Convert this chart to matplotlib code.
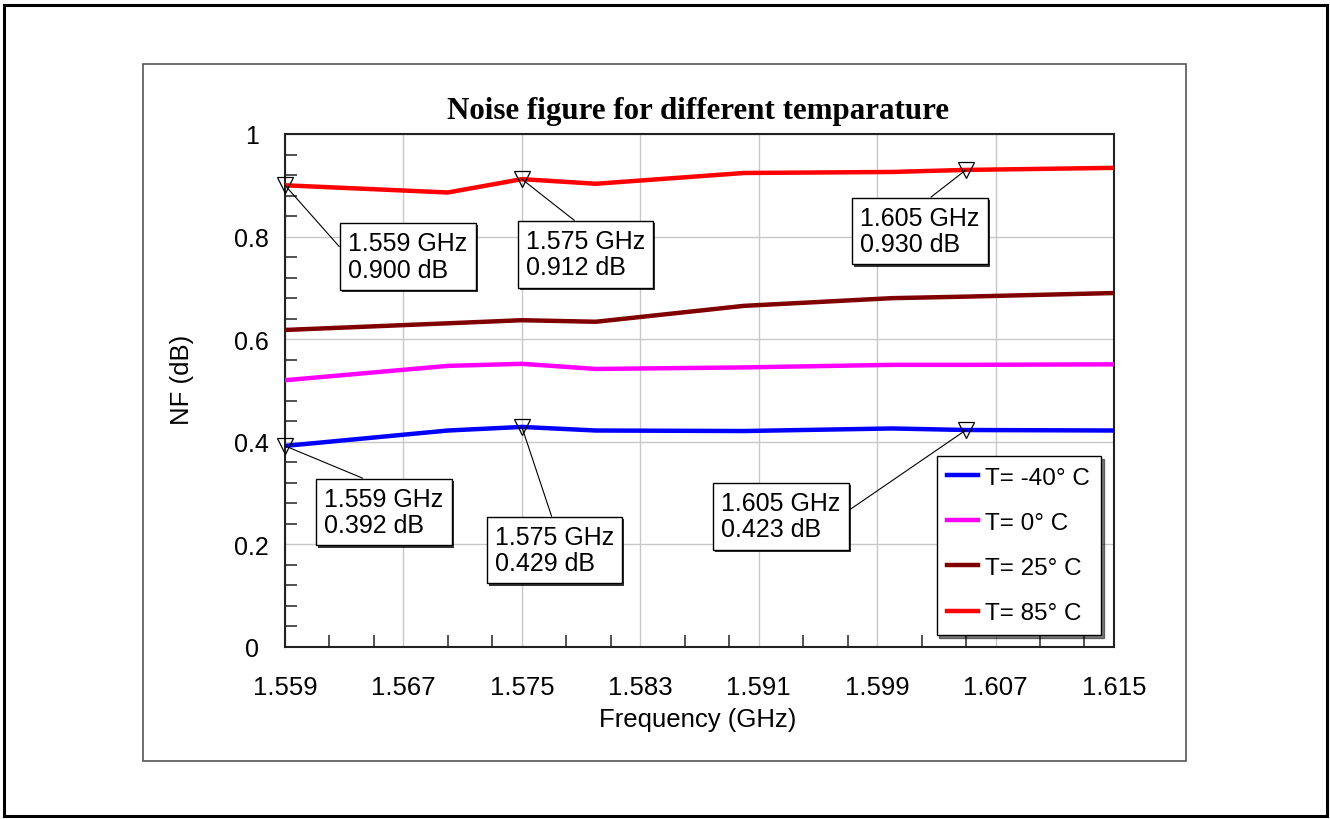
import matplotlib.pyplot as plt
from matplotlib import patheffects
from matplotlib.patches import Rectangle

# measured noise figure (dB) vs frequency (GHz) at four temperatures
freq = [1.559, 1.570, 1.575, 1.580, 1.590, 1.600, 1.605, 1.615]
nf_m40 = [0.392, 0.422, 0.429, 0.422, 0.421, 0.426, 0.423, 0.422]
nf_0 = [0.520, 0.548, 0.552, 0.542, 0.545, 0.550, 0.550, 0.551]
nf_25 = [0.618, 0.631, 0.637, 0.634, 0.665, 0.680, 0.683, 0.690]
nf_85 = [0.900, 0.886, 0.912, 0.903, 0.924, 0.926, 0.930, 0.934]

series_labels = ['T= -40° C', 'T= 0° C', 'T= 25° C', 'T= 85° C']
series_colors = ['#0000ff', '#ff00ff', '#800000', '#ff0000']

# frequencies with a marker on the -40 and 85 degree curves
marker_freqs = [1.559, 1.575, 1.605]

xticks = [1.559, 1.567, 1.575, 1.583, 1.591, 1.599, 1.607, 1.615]
yticks = [0, 0.2, 0.4, 0.6, 0.8, 1.0]
yticklabels = ['0', '0.2', '0.4', '0.6', '0.8', '1']

# marker label placement: offset of text (pixels) and where the leader leaves the box
red_offsets = [(63, -46), (4, -50), (-106, -36)]
red_relpos = [(0, 0.5), (0.5, 1), (0.5, 1)]
blue_offsets = [(39, -41), (-27, -98), (-245, -61)]
blue_relpos = [(0.5, 1), (0.5, 1), (1, 0.5)]

plt.rcParams['font.family'] = ['Liberation Sans', 'DejaVu Sans']
FS = 18

W, H = 1330, 820
fig = plt.figure(figsize=(W / 100, H / 100), dpi=100)
ax = fig.add_axes([285 / W, 172 / H, 829 / W, 513 / H])

# page frames
fig.patches.append(Rectangle((3.5 / W, 3 / H), 1323.5 / W, 811 / H, transform=fig.transFigure,
                             fill=False, lw=2.2, ec='black'))
fig.patches.append(Rectangle((143 / W, 58 / H), 1043 / W, 697 / H, transform=fig.transFigure,
                             fill=False, lw=1.2, ec='#555555'))

for ys, lab, col in zip([nf_m40, nf_0, nf_25, nf_85], series_labels, series_colors):
    ax.plot(freq, ys, color=col, lw=3.2, label=lab, zorder=3)


def mark(series, offsets, relpos):
    pts = [(f, series[freq.index(f)]) for f in marker_freqs]
    ax.plot([p[0] for p in pts], [p[1] for p in pts], ls='none', marker='v', ms=12,
            mfc='none', mec='black', mew=0.9, clip_on=False, zorder=5)
    for (f, v), off, rel in zip(pts, offsets, relpos):
        ann = ax.annotate(f'{f:.3f} GHz\n{v:.3f} dB', xy=(f, v), xytext=off,
                          textcoords='offset pixels', ha='left', va='top', fontsize=FS,
                          linespacing=1.12, zorder=6,
                          bbox=dict(boxstyle='square,pad=0.33', fc='white', ec='black', lw=1),
                          arrowprops=dict(arrowstyle='-', color='black', lw=0.8, relpos=rel,
                                          shrinkA=0, shrinkB=0))
        ann.get_bbox_patch().set_path_effects([
            patheffects.SimplePatchShadow(offset=(1.5, -1.5), shadow_rgbFace='black', alpha=0.8),
            patheffects.Normal()])


mark(nf_85, red_offsets, red_relpos)
mark(nf_m40, blue_offsets, blue_relpos)

ax.set_xlim(xticks[0], xticks[-1])
ax.set_ylim(0, 1)
ax.set_xticks(xticks)
ax.set_xticklabels([f'{t:.3f}' for t in xticks], fontsize=18.5)
ax.set_xticks([t + d for t in xticks[:-1] for d in (0.003, 0.006)], minor=True)
ax.set_yticks(yticks)
ax.set_yticklabels(yticklabels, fontsize=FS)
ax.set_yticks([i * 0.04 for i in range(1, 25) if i % 5], minor=True)
for t in ax.get_yticklabels():
    t.set_horizontalalignment('center')

ax.tick_params(which='major', length=0)
ax.tick_params(axis='x', which='major', pad=20)
ax.tick_params(axis='y', which='major', pad=24)
ax.tick_params(which='minor', direction='in', length=8.6, width=1.2, color='#333333')
ax.grid(True, which='major', color='#c8c8c8', lw=1)
ax.set_axisbelow(True)
for sp in ax.spines.values():
    sp.set_color('#222222')
    sp.set_linewidth(1.5)

leg = ax.legend(loc='lower right', bbox_to_anchor=(0.9843, 0.0234), borderaxespad=0,
                fontsize=17.5, handlelength=1.25, handletextpad=0.3, labelspacing=0.95,
                borderpad=0.45, fancybox=False, framealpha=1, edgecolor='black',
                shadow={'color': 'black', 'alpha': 0.5})
leg.get_frame().set_linewidth(1)
leg.set_zorder(7)

fig.text(698 / W, (H - 112) / H, 'Noise figure for different temparature', ha='center',
         va='center', fontsize=22.3, fontweight='bold', family=['Liberation Serif', 'DejaVu Serif'])
fig.text(182 / W, (H - 380) / H, 'NF (dB)', rotation=90, ha='center', va='center', fontsize=18.5)
fig.text(698 / W, (H - 720) / H, 'Frequency (GHz)', ha='center', va='center', fontsize=18.5)

fig.savefig('out.png', dpi=100)
